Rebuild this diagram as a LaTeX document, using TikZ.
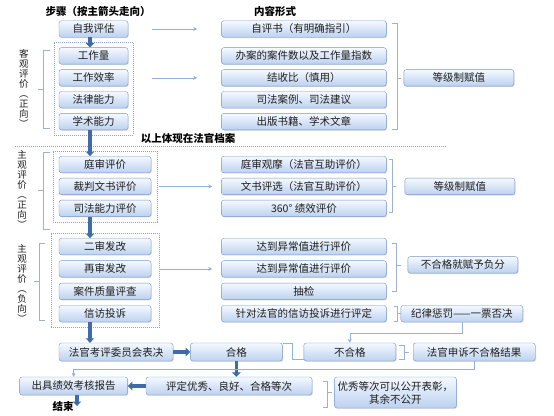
\documentclass[tikz,border=0pt]{standalone}
\usepackage{fontspec}
\setmainfont{Noto Sans CJK SC}
\usepackage{tikz}
\usetikzlibrary{positioning,fit,arrows.meta,shadows}

\definecolor{boxline}{HTML}{7896C4}
\definecolor{boxtop}{HTML}{F5F9FF}
\definecolor{boxbot}{HTML}{BCD1EF}
\definecolor{txt}{HTML}{1E1E1E}
\definecolor{arrblue}{HTML}{3E6CA7}
\definecolor{thinblue}{HTML}{93B0D6}
\definecolor{brace}{HTML}{9FB2CB}
\definecolor{frame}{HTML}{8BA3C4}

\begin{document}
\begin{tikzpicture}[x=1pt, y=-1pt,
    box/.style={draw=boxline, rounded corners=2.5pt, top color=boxtop, bottom color=boxbot,
        minimum height=16.5pt, inner sep=1pt, text=txt, font=\fontsize{10.5}{13}\selectfont,
        drop shadow={shadow xshift=0.8pt, shadow yshift=-0.9pt, opacity=0.25}},
    stepA/.style={box, minimum width=69pt},
    stepB/.style={box, minimum width=92pt},
    form/.style={box, minimum width=165pt},
    result/.style={box, minimum width=110pt},
    head/.style={font=\fontsize{10.5}{12}\selectfont\bfseries, text=black},
    vlab/.style={align=center, inner sep=0pt, text=txt, font=\fontsize{9.5}{10}\selectfont},
    group/.style={draw=frame, dash pattern=on 1pt off 1pt, line width=0.5pt, inner ysep=5pt},
    rule/.style={draw=frame, dash pattern=on 1pt off 1pt, line width=0.5pt},
    mainarr/.style={draw=arrblue, line width=3.2pt, -{Triangle[length=4.5pt,width=8.5pt]}},
    sidearr/.style={draw=thinblue, line width=0.6pt, -{Stealth[length=4pt,width=4pt]}},
    brk/.style={draw=brace, line width=0.6pt},
    link/.style={draw=thinblue, line width=0.6pt}]

    \fill[white] (0,0) rectangle (554,415);
    \useasboundingbox (0,0) rectangle (554,415);

    % Headings
    \node[head] (steps) at (98,11) {步骤（按主箭头走向）};
    \node[head] (forms) at (275,11) {内容形式};

    % Objective steps
    \node[stepA] (self) at (93.5,29) {自我评估};
    \node[stepA, below=10pt of self] (workload) {工作量};
    \node[stepA, below=5pt of workload] (efficiency) {工作效率};
    \node[stepA, below=5pt of efficiency] (lawskill) {法律能力};
    \node[stepA, below=5pt of lawskill] (academic) {学术能力};

    \node[form, right=93pt of self] (selfbook) {自评书（有明确指引）};
    \node[form, right=93pt of workload] (casenum) {办案的案件数以及工作量指数};
    \node[form, right=93pt of efficiency] (ratio) {结收比（慎用）};
    \node[form, right=93pt of lawskill] (cases) {司法案例、司法建议};
    \node[form, right=93pt of academic] (publish) {出版书籍、学术文章};
    \node[result, right=17pt of ratio] (grade1) {等级制赋值};

    \node[head] (archive) at (188,138) {以上体现在法官档案};

    % Subjective steps (positive)
    \node[stepB] (trial) at (105,164.5) {庭审评价};
    \node[stepB, below=5pt of trial] (judgment) {裁判文书评价};
    \node[stepB, below=5pt of judgment] (jeval) {司法能力评价};

    \node[form, right=70pt of trial] (courtobs) {庭审观摩（法官互助评价）};
    \node[form, right=70pt of judgment] (docsel) {文书评选（法官互助评价）};
    \node[form, right=70pt of jeval] (perf) {360° 绩效评价};
    \node[result, right=18pt of docsel] (grade2) {等级制赋值};

    % Subjective steps (negative)
    \node[stepB] (second) at (105,246.5) {二审发改};
    \node[stepB, below=5.5pt of second] (retrial) {再审发改};
    \node[stepB, below=5.5pt of retrial] (quality) {案件质量评查};
    \node[stepB, below=5.5pt of quality] (petition) {信访投诉};

    \node[form, right=70pt of second] (abn1) {达到异常值进行评价};
    \node[form, right=70pt of retrial] (abn2) {达到异常值进行评价};
    \node[form, right=70pt of quality] (spot) {抽检};
    \node[form, right=70pt of petition] (peteval) {针对法官的信访投诉进行评定};
    \node[result, right=21pt of abn2, yshift=4pt] (negative) {不合格就赋予负分};
    \node[box, minimum width=122pt, right=14pt of peteval] (discipline) {纪律惩罚——一票否决};

    % Decision
    \node[box, minimum width=114pt, minimum height=18pt] (vote) at (116,352) {法官考评委员会表决};
    \node[stepB, minimum height=18pt, right=17pt of vote] (pass) {合格};
    \node[stepB, minimum height=18pt, right=21pt of pass] (fail) {不合格};
    \node[box, minimum width=122pt, minimum height=18pt, right=17pt of fail] (appeal) {法官申诉不合格结果};
    \node[box, minimum width=166pt, minimum height=18pt] (grading) at (229,386) {评定优秀、良好、合格等次};
    \node[box, minimum width=108pt, minimum height=18pt, left=18pt of grading] (report) {出具绩效考核报告};
    \node[box, minimum width=122pt, minimum height=31pt, align=center, right=22pt of grading, yshift=-6.5pt] (honor)
        {优秀等次可以公开表彰，\\其余不公开};
    \node[head] (finish) at (63,406) {结束};

    % Side labels
    \node[vlab] (labobj) at (24,88) {客\\观\\评\\价\\︵\\正\\向\\︶};
    \node[vlab] (labpos) at (22,190) {主\\观\\评\\价\\︵\\正\\向\\︶};
    \node[vlab] (labneg) at (22,284) {主\\观\\评\\价\\︵\\负\\向\\︶};

    % Groups
    \node[group, inner xsep=5pt, fit=(workload)(academic)] (grpA) {};
    \node[group, inner xsep=6pt, fit=(trial)(jeval)] (grpB) {};
    \node[group, inner xsep=8pt, fit=(second)(petition)] (grpC) {};
    \draw[rule] (15,146) -- (447,146);

    % Left braces
    \draw[brk] (50,50) -| (43,128) -- (50,128) (43,89) -- (38,89);
    \draw[brk] (50,152) -| (43,229) -- (50,229) (43,190) -- (38,190);
    \draw[brk] (45,243) -| (39,320) -- (45,320) (39,281) -- (34,281);

    % Right braces
    \draw[brk] ([xshift=5pt,yshift=-3pt]selfbook.north east) -- ++(6,0) coordinate (b1)
        |- ([xshift=5pt,yshift=1pt]publish.south east) (b1 |- grade1.west) -- ++(3,0);
    \draw[brk] ([xshift=2pt,yshift=-3pt]courtobs.north east) -- ++(4,0) coordinate (b2)
        |- ([xshift=2pt,yshift=4pt]perf.south east) (b2 |- grade2.west) -- ++(3,0);
    \draw[brk] ([xshift=5pt,yshift=-5pt]abn1.north east) -- ++(5,0) coordinate (b3)
        |- ([xshift=5pt,yshift=8pt]spot.south east) (b3 |- negative.west) -- ++(4,0);
    \draw[brk] ([xshift=7pt,yshift=-1pt]peteval.north east) -- ++(4,0) coordinate (b4)
        |- ([xshift=7pt,yshift=1pt]peteval.south east) (b4 |- discipline.west) -- ++(3,0);
    \draw[brk] ([xshift=3pt,yshift=-2pt]fail.north east) -- ++(5,0) coordinate (b5)
        |- ([xshift=3pt,yshift=2pt]fail.south east) (b5 |- appeal.west) -- ++(5,0);
    \draw[brk] ([xshift=11pt,yshift=-4pt]grading.north east) -- ++(4,0) coordinate (b6)
        -- ++(0,26) -- ++(-4,0) (b6 |- honor.west) -- ++(5,0);

    % Main arrows
    \coordinate (axis) at (90,0);
    \draw[mainarr] (self.south -| axis) -- (workload.north -| axis);
    \draw[mainarr] (academic.south -| axis) -- (trial.north -| axis);
    \draw[mainarr] (jeval.south -| axis) -- (second.north -| axis);
    \draw[mainarr] (petition.south -| axis) -- (vote.north -| axis);
    \draw[mainarr] (vote) -- (pass);
    \draw[mainarr] (pass.south) -- (pass.south |- grading.north);
    \draw[mainarr] (grading) -- (report);
    \draw[mainarr] (report.south -| finish.east) -- (finish.east);

    % Side arrows
    \draw[sidearr, shorten <=24pt, shorten >=24pt] (self.east) -- (selfbook.west);
    \draw[sidearr, shorten <=24pt, shorten >=24pt] (efficiency.east) -- (ratio.west);
    \draw[sidearr, shorten <=8pt, shorten >=9pt] (judgment.east) -- (docsel.west);
    \draw[sidearr, shorten <=8pt, shorten >=9pt] (retrial.east) -- (abn2.west);
    \draw[sidearr] (discipline.south) -- ++(0,11) -| (fail.north);
    \draw[sidearr] (appeal.south) -- ++(0,8) -| (report.north);
    \draw[link] (pass.north east) -- ++(10,0) |- ([yshift=2pt]fail.south west);

\end{tikzpicture}
\end{document}
